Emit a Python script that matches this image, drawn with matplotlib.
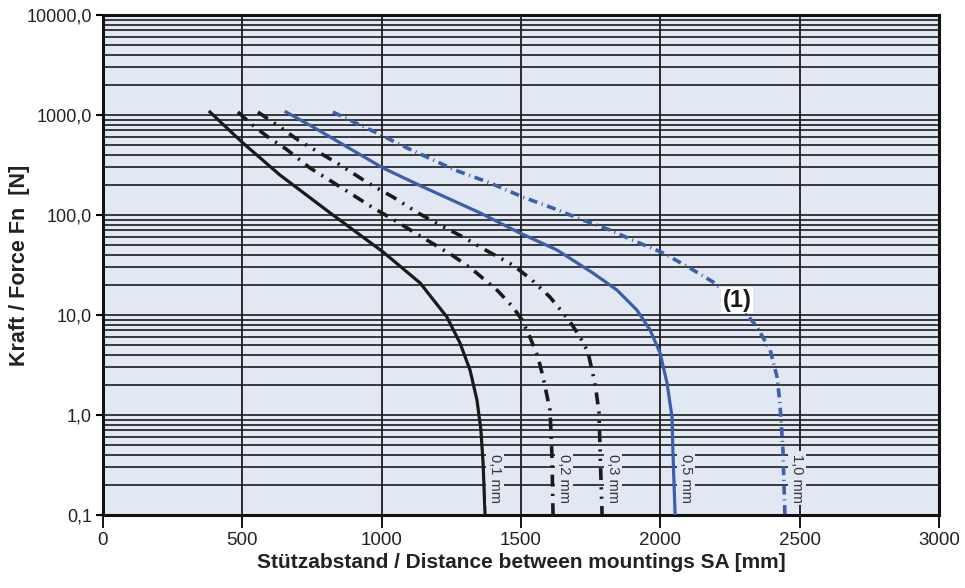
import matplotlib
matplotlib.use("Agg")
import matplotlib.pyplot as plt
from matplotlib.ticker import FixedLocator, FuncFormatter, NullFormatter

plt.rcParams['font.family'] = ['Liberation Sans', 'DejaVu Sans']

# ---- data ----
x_01 = [384, 502, 635, 815, 1005, 1138, 1234, 1281, 1317, 1342, 1356, 1364, 1371]
y_01 = [1070, 525, 251, 105, 42.7, 20.9, 9.55, 5.25, 2.82, 1.41, 0.71, 0.33, 0.1]

x_02 = [484, 545, 592, 657, 743, 858, 965, 1051, 1138, 1252, 1324, 1417, 1471, 1504,
        1532, 1561, 1579, 1604, 1611, 1615]
y_02 = [1070, 759, 603, 457, 295, 186, 120, 87, 61.7, 39.8, 28.8, 17.4, 12.0, 8.9,
        6.0, 3.8, 2.4, 1.12, 0.40, 0.1]

x_03 = [556, 635, 700, 754, 840, 951, 1041, 1130, 1209, 1292, 1385, 1471, 1539, 1604,
        1672, 1712, 1740, 1758, 1769, 1780, 1783, 1791]
y_03 = [1070, 759, 562, 457, 331, 209, 151, 105, 79.4, 60.3, 42.7, 31.6, 22.4, 15.1,
        8.9, 6.0, 4.27, 2.57, 1.78, 1.05, 0.52, 0.1]

x_05 = [657, 754, 876, 1005, 1148, 1353, 1496, 1629, 1758, 1844, 1916, 1963, 1999,
        2024, 2042, 2045, 2053]
y_05 = [1070, 759, 479, 295, 191, 105, 66, 44.7, 26.3, 17.8, 11.2, 7.1, 4.17,
        2.09, 0.95, 0.45, 0.1]

x_10 = [825, 983, 1091, 1263, 1389, 1507, 1615, 1722, 1819, 1916, 2010, 2106, 2189,
        2268, 2347, 2394, 2419, 2429, 2440, 2447]
y_10 = [1070, 661, 468, 282, 209, 151, 117, 89, 70.8, 53.7, 41.7, 29.5, 21.4,
        14.1, 7.6, 4.47, 2.4, 1.32, 0.45, 0.1]

curve_labels = ["0,1 mm", "0,2 mm", "0,3 mm", "0,5 mm", "1,0 mm"]
label_x = [1407, 1654, 1830, 2092, 2490]
label_y = 0.234

x_ticks = [0, 500, 1000, 1500, 2000, 2500, 3000]
y_ticks = [0.1, 1, 10, 100, 1000, 10000]
y_tick_labels = ["0,1", "1,0", "10,0", "100,0", "1000,0", "10000,0"]

note_text = "(1)"
note_x, note_y = 2275, 14.1

# ---- figure ----
fig = plt.figure(figsize=(9.65, 5.88), dpi=100)
ax = fig.add_axes([103/965, 1-515/588, (939-103)/965, (515-15)/588])
bg = '#E1E7F3'
ax.set_facecolor(bg)
ax.set_yscale('log')
ax.set_xlim(0, 3000)
ax.set_ylim(0.1, 10000)

minor = []
for dec in [0.1, 1, 10, 100, 1000]:
    for m in range(2, 10):
        minor.append(dec*m)
ax.yaxis.set_major_locator(FixedLocator(y_ticks))
ax.yaxis.set_minor_locator(FixedLocator(minor))
ax.yaxis.set_major_formatter(FuncFormatter(
    lambda v, p: y_tick_labels[min(range(len(y_ticks)), key=lambda i: abs(y_ticks[i] - v))]))
ax.yaxis.set_minor_formatter(NullFormatter())
ax.xaxis.set_major_locator(FixedLocator(x_ticks))
ax.grid(True, which='both', axis='y', color='#1c1c1c', lw=1.2, zorder=1)
ax.grid(True, which='major', axis='x', color='#1c1c1c', lw=1.3, zorder=1)
ax.set_axisbelow(True)

ax.tick_params(axis='y', which='major', direction='out', length=5, width=1.5,
               labelsize=13, pad=3, labelcolor='#222222')
ax.tick_params(axis='y', which='minor', length=0)
ax.tick_params(axis='x', which='major', direction='out', length=9, width=1.3,
               labelsize=13.5, pad=3, labelcolor='#222222')
for s in ax.spines.values():
    s.set_linewidth(2.2)
    s.set_color('#111111')

blue = '#3C5FA8'
ax.plot(x_01, y_01, color='#1a1a1a', lw=2.3, zorder=3)
ax.plot(x_02, y_02, color='#1a1a1a', lw=2.6, ls=(0, (3.3, 2, 0.6, 2)), zorder=3)
ax.plot(x_03, y_03, color='#1a1a1a', lw=2.6, ls=(0, (3.3, 2, 0.6, 2, 0.6, 2)), zorder=3)
ax.plot(x_05, y_05, color=blue, lw=2.3, zorder=3)
ax.plot(x_10, y_10, color=blue, lw=2.6, ls=(0, (2.5, 1.3, 0.3, 1.3)), zorder=3)

for t, lx in zip(curve_labels, label_x):
    ax.text(lx, label_y, t, rotation=270, ha='center', va='center', fontsize=10.5,
            color='#333333', zorder=4,
            bbox=dict(boxstyle='square,pad=0.15', fc=bg, ec='none'))

ax.text(note_x, note_y, note_text, ha='center', va='center', fontsize=17,
        fontweight='bold', color='#1a1a1a', zorder=5,
        bbox=dict(boxstyle='square,pad=0.08', fc='white', ec='none'))

ax.set_xlabel("Stützabstand / Distance between mountings SA [mm]", fontsize=15,
              fontweight='bold', color='#222222')
ax.xaxis.set_label_coords(0.5, -(563 - 515) / 500)
ax.xaxis.label.set_va('center')
ax.set_ylabel("Kraft / Force Fn  [N]", fontsize=15.5, fontweight='bold', color='#222222')
ax.yaxis.set_label_coords((20 - 103) / 836, 0.5)
ax.yaxis.label.set_va('center')

fig.savefig('out.png', dpi=100, facecolor='white')
